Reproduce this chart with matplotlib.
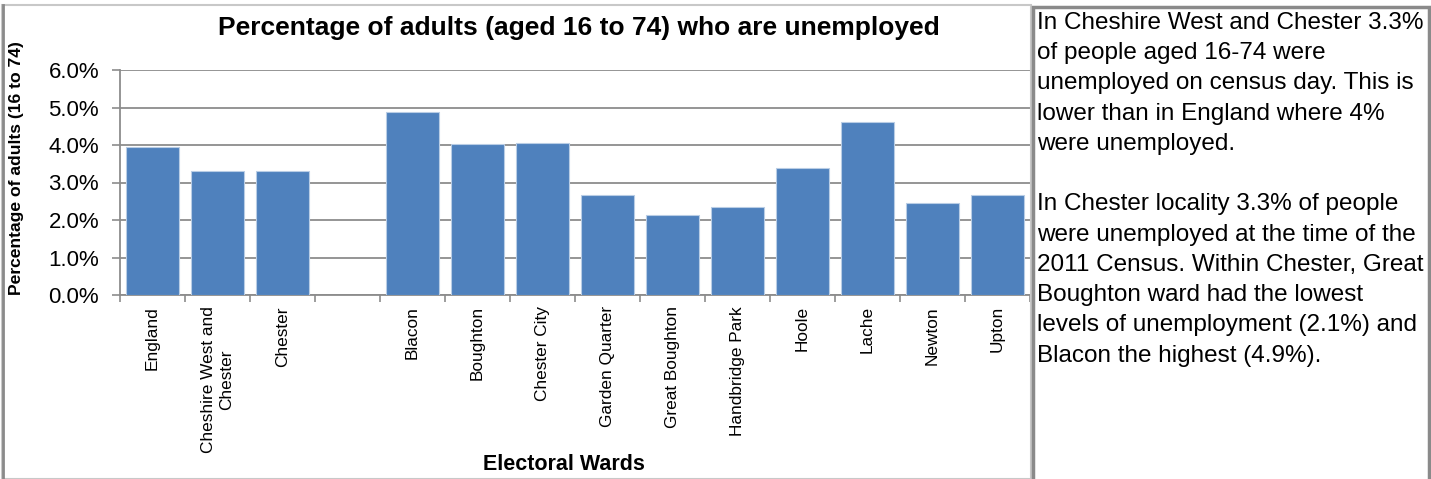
# Chester wards - unemployment bar chart with side note
import matplotlib.pyplot as plt
from matplotlib.patches import Rectangle
import numpy as np

plt.rcParams['font.family'] = ['Liberation Sans', 'DejaVu Sans']

wards = ['England', 'Cheshire West and\nChester', 'Chester', '',
         'Blacon', 'Boughton', 'Chester City', 'Garden Quarter',
         'Great Boughton', 'Handbridge Park', 'Hoole', 'Lache',
         'Newton', 'Upton']
unemployed = [3.95, 3.31, 3.30, np.nan,
              4.89, 4.03, 4.06, 2.68,
              2.13, 2.35, 3.38, 4.62,
              2.45, 2.67]
yticks = [0, 1, 2, 3, 4, 5, 6]

note = ("In Cheshire West and Chester 3.3%\n"
        "of people aged 16-74 were\n"
        "unemployed on census day. This is\n"
        "lower than in England where 4%\n"
        "were unemployed.\n"
        "\n"
        "In Chester locality 3.3% of people\n"
        "were unemployed at the time of the\n"
        "2011 Census. Within Chester, Great\n"
        "Boughton ward had the lowest\n"
        "levels of unemployment (2.1%) and\n"
        "Blacon the highest (4.9%).")

W, H = 1431, 479
fig = plt.figure(figsize=(W / 100, H / 100), dpi=100)

# frames
fig.patches.append(Rectangle((2 / W, 0), 1029 / W, (H - 5) / H, transform=fig.transFigure,
                             fill=False, edgecolor='#c8c8c8', linewidth=1.5))
fig.add_artist(plt.Line2D([2.5 / W, 2.5 / W], [0, (H - 5) / H], transform=fig.transFigure,
                          color='#8a8a8a', linewidth=2))
fig.patches.append(Rectangle((1032.5 / W, -0.01), 396 / W, (H - 6.5) / H + 0.01,
                             transform=fig.transFigure, fill=False,
                             edgecolor='#8a8a8a', linewidth=2.5))

ax = fig.add_axes([120 / W, (H - 295) / H, 910 / W, 225 / H])
x = np.arange(len(wards))
ax.bar(x, unemployed, width=0.83, color='#4f81bd', edgecolor='#b9cde5',
       linewidth=0.8, zorder=3)

ax.set_xlim(-0.5, len(wards) - 0.5)
ax.set_ylim(0, 6)
ax.set_yticks(yticks)
ax.set_yticklabels(['%.1f%%' % v for v in yticks], fontsize=16)
ax.yaxis.grid(True, color='#8c8c8c', linewidth=1.3, zorder=0)

ax.set_xticks(np.arange(len(wards) + 1) - 0.5)
ax.set_xticklabels([])
ax.set_xticks(x, minor=True)
ax.set_xticklabels(wards, minor=True, rotation=90, fontsize=12.4,
                   va='top', ha='center', multialignment='center')
ax.tick_params(axis='x', which='minor', length=0, pad=8)
ax.tick_params(axis='x', which='major', length=5, color='#8c8c8c', width=1.2)
ax.tick_params(axis='y', length=6, color='#8c8c8c', width=1.2, pad=9)

for s in ['top', 'right']:
    ax.spines[s].set_visible(False)
for s in ['left', 'bottom']:
    ax.spines[s].set_color('#8c8c8c')
    ax.spines[s].set_linewidth(1.3)

fig.text(579 / W, 1 - 28 / H, 'Percentage of adults (aged 16 to 74) who are unemployed',
         fontsize=19, fontweight='bold', ha='center', va='center')
fig.text(17 / W, 1 - 168 / H, 'Percentage of adults (16 to 74)', rotation=90,
         fontsize=12.6, fontweight='bold', ha='center', va='center')
fig.text(564 / W, 1 - 465 / H, 'Electoral Wards', fontsize=15.5, fontweight='bold',
         ha='center', va='center')

fig.text(1037 / W, 1 - 12 / H, note, fontsize=17.5, ha='left', va='top', linespacing=1.485)

fig.savefig('out.png', dpi=100)
